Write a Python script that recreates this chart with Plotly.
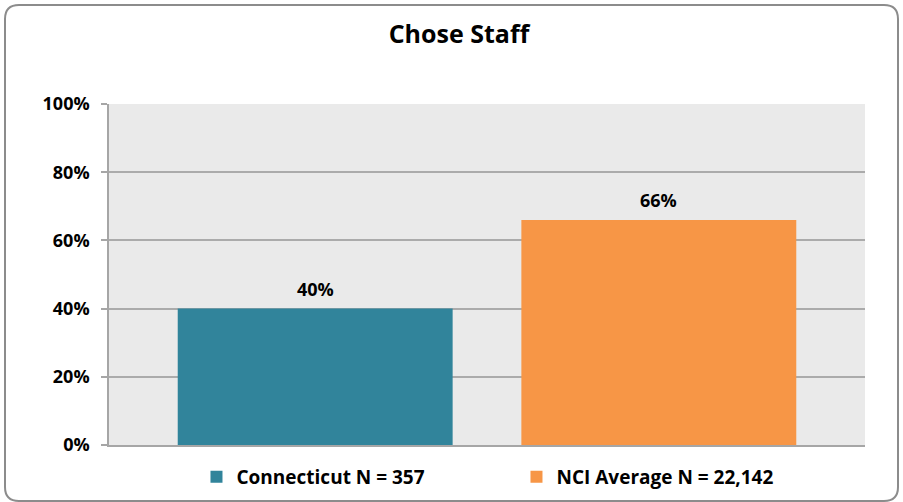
import plotly.graph_objects as go

series_names = ["Connecticut N = 357", "NCI Average N = 22,142"]
values = [40, 66]
labels = ["40%", "66%"]
colors = ["#31849B", "#F79646"]
tick_vals = [0, 20, 40, 60, 80, 100]
tick_text = ["0%", "20%", "40%", "60%", "80%", "100%"]

FONT = "Open Sans"

fig = go.Figure()
for name, v, lab, c in zip(series_names, values, labels, colors):
    fig.add_trace(go.Bar(
        x=[name], y=[v], name=name, width=0.8,
        marker=dict(color=c, line=dict(width=0)),
        hovertemplate="%{y}%<extra>" + name + "</extra>",
    ))
    fig.add_annotation(x=name, y=v, text=f"<b>{lab}</b>", showarrow=False,
                       xref="x", yref="y", yanchor="bottom", yshift=6,
                       font=dict(family=FONT, size=18, color="#000000"))

W, H = 903, 502
ML, MR, MT, MB = 109, 38, 104, 57

fig.update_layout(
    width=W, height=H,
    margin=dict(l=ML, r=MR, t=MT, b=MB, autoexpand=False),
    paper_bgcolor="white",
    plot_bgcolor="#EAEAEA",
    barmode="overlay",
    showlegend=True,
    title=dict(text="<b>Chose Staff</b>", x=459/W, xref="container", xanchor="center",
               y=1 - 34/H, yanchor="middle",
               font=dict(family=FONT, size=25, color="#000000")),
    legend=dict(orientation="h", x=0.539, xref="paper", xanchor="center",
                y=1 - 477/H, yref="container", yanchor="middle",
                font=dict(family=FONT, size=19, color="#000000", weight="bold"),
                itemwidth=30, entrywidth=275, bgcolor="rgba(0,0,0,0)"),
    xaxis=dict(range=[-0.6, 1.6], showticklabels=False, showgrid=False,
               showline=True, linecolor="#A6A6A6", linewidth=1.5, ticks="",
               zeroline=False, fixedrange=True),
    yaxis=dict(range=[0, 100], tickvals=tick_vals, ticktext=tick_text,
               showgrid=True, gridcolor="#ABABAB", gridwidth=1.5,
               showline=True, linecolor="#A6A6A6", linewidth=1.5,
               ticks="outside", ticklen=6, tickcolor="#A6A6A6", tickwidth=1.5,
               ticklabelstandoff=8,
               tickfont=dict(family=FONT, size=18, color="#000000", weight="bold"),
               zeroline=False),
)

# rounded outer border (pixel positions converted to paper coordinates)
pw, ph = W - ML - MR, H - MT - MB
def px(x):
    return (x - ML) / pw
def py(y):
    return 1 - (y - MT) / ph
x0, x1, y0, y1, r = 5, 898, 5, 501, 14
path = (f"M {px(x0+r)},{py(y0)} L {px(x1-r)},{py(y0)} "
        f"Q {px(x1)},{py(y0)} {px(x1)},{py(y0+r)} "
        f"L {px(x1)},{py(y1-r)} Q {px(x1)},{py(y1)} {px(x1-r)},{py(y1)} "
        f"L {px(x0+r)},{py(y1)} Q {px(x0)},{py(y1)} {px(x0)},{py(y1-r)} "
        f"L {px(x0)},{py(y0+r)} Q {px(x0)},{py(y0)} {px(x0+r)},{py(y0)} Z")
fig.add_shape(type="path", xref="paper", yref="paper", path=path,
              line=dict(color="#8C8C8C", width=2), layer="below")

fig.write_html(
    "out.html",
    config={"displayModeBar": False},
    post_script="document.body.style.margin='0';",
)
